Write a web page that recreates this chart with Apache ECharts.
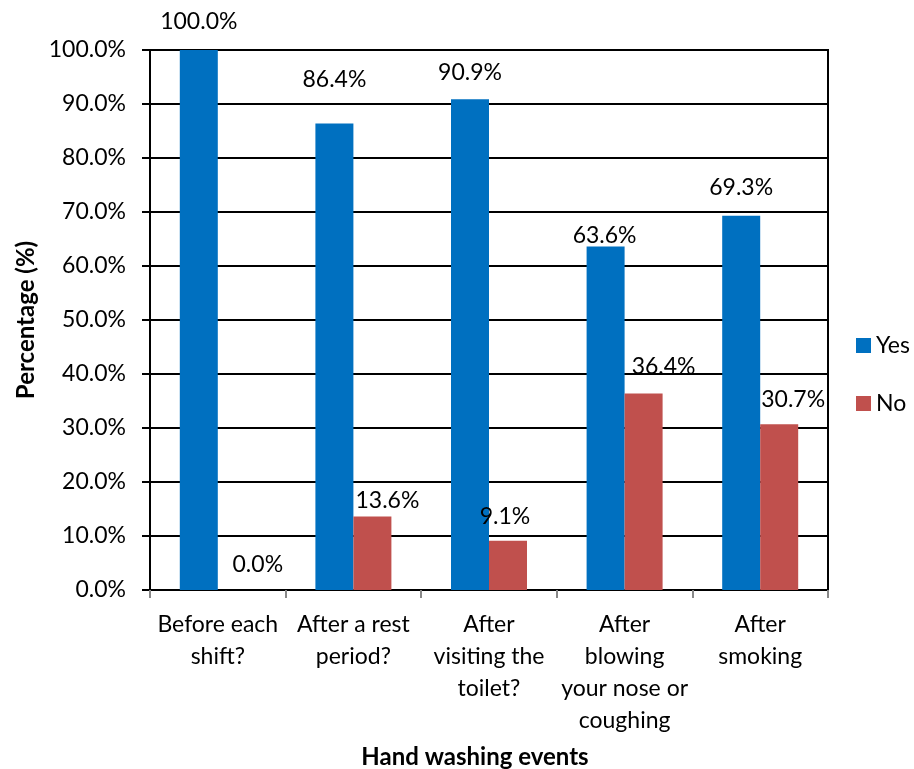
<!DOCTYPE html>
<html>
<head>
<meta charset="utf-8">
<script src="https://cdn.jsdelivr.net/npm/echarts@6/dist/echarts.min.js"></script>
<style>
  html, body { margin: 0; padding: 0; background: #fff; }
  #chart { width: 914px; height: 769px; }
</style>
</head>
<body>
<div id="chart"></div>
<script>
// Hand washing survey: share of respondents per event
const categories = [
  'Before each\nshift?',
  'After a rest\nperiod?',
  'After\nvisiting the\ntoilet?',
  'After\nblowing\nyour nose or\ncoughing',
  'After\nsmoking'
];
const yesValues = [100.0, 86.4, 90.9, 63.6, 69.3];
const noValues = [0.0, 13.6, 9.1, 36.4, 30.7];

// label nudges [dx, dy] for each bar's value text
const yesLabelOffsets = [[0, -12], [0, -27], [0, -10], [-1, 6], [0, -12]];
const noLabelOffsets = [[21, -9], [15, 1], [-3, -8], [20, -10], [14, -8]];

const FONT = 'Lato, "Noto Sans", sans-serif';
const FS = 23;

function withLabels(values, offsets) {
  return values.map((v, i) => ({
    value: v,
    label: { offset: offsets[i] }
  }));
}

const chart = echarts.init(document.getElementById('chart'));
chart.setOption({
  backgroundColor: '#ffffff',
  animation: false,
  textStyle: { fontFamily: FONT },
  grid: {
    left: 150, right: 86, top: 50, bottom: 179,
    show: true, borderColor: '#000', borderWidth: 2, backgroundColor: 'transparent'
  },
  title: {
    text: 'Hand washing events',
    left: 470, top: 740, textAlign: 'center',
    textStyle: { fontFamily: FONT, fontSize: 24, fontWeight: 'bold', color: '#000' }
  },
  legend: {
    orient: 'vertical',
    left: 851, top: 329,
    itemWidth: 15, itemHeight: 15, itemGap: 35,
    icon: 'rect',
    textStyle: { fontFamily: FONT, fontSize: FS, color: '#000' },
    data: ['Yes', 'No']
  },
  xAxis: {
    type: 'category',
    data: categories,
    axisLine: { lineStyle: { color: '#000', width: 2 } },
    axisTick: { show: true, length: 8, lineStyle: { color: '#888', width: 2 } },
    axisLabel: {
      interval: 0, margin: 19, fontFamily: FONT, fontSize: FS, color: '#000',
      lineHeight: 32
    }
  },
  yAxis: {
    type: 'value',
    min: 0, max: 100, interval: 10,
    name: 'Percentage (%)',
    nameLocation: 'middle',
    nameGap: 112,
    nameRotate: 90,
    nameTextStyle: { fontFamily: FONT, fontSize: 24, fontWeight: 'bold', color: '#000' },
    axisLine: { show: true, lineStyle: { color: '#000', width: 2 } },
    axisTick: { show: true, length: 8, lineStyle: { color: '#000', width: 2 } },
    axisLabel: {
      margin: 24, fontFamily: FONT, fontSize: FS, color: '#000',
      formatter: v => v.toFixed(1) + '%'
    },
    splitLine: { show: true, lineStyle: { color: '#000', width: 2 } }
  },
  series: [
    {
      name: 'Yes', type: 'bar',
      data: withLabels(yesValues, yesLabelOffsets),
      barWidth: 38, barGap: '0%',
      itemStyle: { color: '#0070C0' },
      label: {
        show: true, position: 'top', distance: 5,
        fontFamily: FONT, fontSize: FS, color: '#000',
        formatter: p => p.value.toFixed(1) + '%'
      }
    },
    {
      name: 'No', type: 'bar',
      data: withLabels(noValues, noLabelOffsets),
      barWidth: 38,
      itemStyle: { color: '#C0504D' },
      label: {
        show: true, position: 'top', distance: 5,
        fontFamily: FONT, fontSize: FS, color: '#000',
        formatter: p => p.value.toFixed(1) + '%'
      }
    }
  ]
});
</script>
</body>
</html>
